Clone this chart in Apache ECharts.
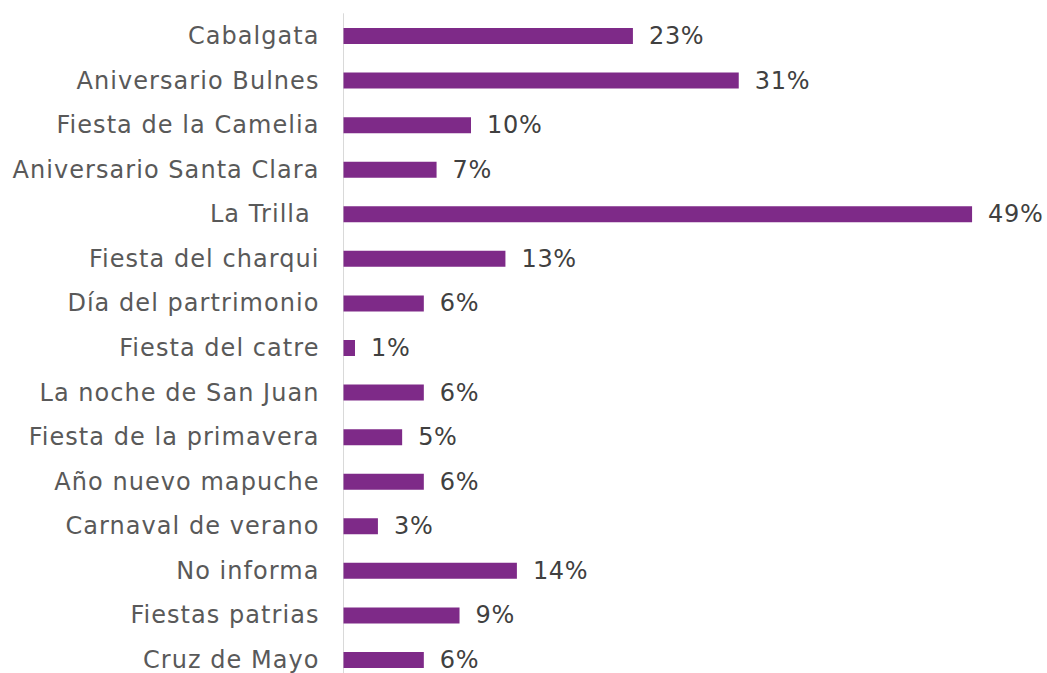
<!DOCTYPE html>
<html>
<head>
<meta charset="utf-8">
<script src="https://cdn.jsdelivr.net/npm/echarts@6/dist/echarts.min.js"></script>
<style>
  html, body { margin: 0; padding: 0; background: #fff; overflow: hidden; }
  /* chart is a bit taller than the window: the last row is cut off like in the original */
  #chart { width: 1047px; height: 690px; }
  /* text is tracked a little wider, like the original font */
  #chart text[fill="#595959"] { letter-spacing: 1.05px; }
  #chart text[fill="#404040"] { letter-spacing: 0.7px; }
</style>
</head>
<body>
<div id="chart"></div>
<script>
// categories top to bottom
const categories = [
  "Cabalgata",
  "Aniversario Bulnes",
  "Fiesta de la Camelia",
  "Aniversario Santa Clara",
  "La Trilla ",
  "Fiesta del charqui",
  "Día del partrimonio",
  "Fiesta del catre",
  "La noche de San Juan",
  "Fiesta de la primavera",
  "Año nuevo mapuche",
  "Carnaval de verano",
  "No informa",
  "Fiestas patrias",
  "Cruz de Mayo"
];

// percentages
const values = [22.7, 31.0, 10.0, 7.3, 49.3, 12.7, 6.3, 0.9, 6.3, 4.6, 6.3, 2.7, 13.6, 9.1, 6.3];

var myChart = echarts.init(document.getElementById("chart"), null, { renderer: "svg" });
var option = {
  animation: false,
  grid: {
    left: 343.5,
    top: 13.7,
    width: 637.5,
    height: 668.6,
    containLabel: false
  },
  xAxis: {
    type: "value",
    min: 0,
    max: 50,
    show: false
  },
  yAxis: {
    type: "category",
    inverse: true,
    data: categories,
    axisLine: {
      show: true,
      lineStyle: { color: "#d9d9d9", width: 1 }
    },
    axisTick: { show: false }, // no ticks
    axisLabel: {
      margin: 24,
      fontFamily: "DejaVu Sans",
      fontSize: 24,
      color: "#595959"
    }
  },
  series: [
    {
      type: "bar",
      data: values,
      barWidth: 16,
      itemStyle: { color: "#7E2A88" },
      label: {
        show: true,
        position: "right",
        distance: 16,
        fontFamily: "DejaVu Sans",
        fontSize: 24,
        color: "#404040",
        formatter: p => Math.round(p.value) + "%"
      }
    }
  ]
};
myChart.setOption(option);
</script>
</body>
</html>
